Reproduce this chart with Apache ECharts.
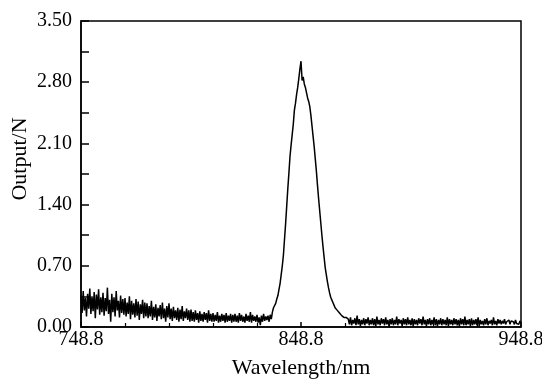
<!DOCTYPE html>
<html>
<head>
<meta charset="utf-8">
<script src="https://cdn.jsdelivr.net/npm/echarts@6/dist/echarts.min.js"></script>
<style>
  html, body { margin: 0; padding: 0; background: #fff; }
  #chart { width: 542px; height: 380px; }
</style>
</head>
<body>
<div id="chart"></div>
<script>
// wavelength axis (nm)
const xMin = 748.8;
const xMax = 948.8;
const xTickStep = 100;
const step = 0.5; // sample spacing, nm

// y axis
const yMax = 3.5;
const yTickStep = 0.7;

// noisy baseline, 748.8 .. 833.3 nm
const leftStart = 748.8;
const leftValues = [
  0.36,0.16,0.41,0.19,0.33,0.12,0.38,0.21,0.44,0.15,0.35,0.18,0.40,0.10,0.37,0.20,0.43,0.14,0.34,0.17,
  0.39,0.13,0.33,0.18,0.45,0.15,0.31,0.06,0.38,0.17,0.34,0.12,0.41,0.19,0.30,0.11,0.36,0.16,0.32,0.14,
  0.33,0.12,0.28,0.15,0.35,0.09,0.30,0.14,0.27,0.11,0.32,0.13,0.29,0.08,0.26,0.15,0.31,0.10,0.28,0.12,
  0.27,0.10,0.24,0.12,0.30,0.08,0.23,0.11,0.26,0.07,0.22,0.12,0.25,0.09,0.28,0.10,0.21,0.06,0.24,0.11,
  0.27,0.09,0.21,0.07,0.23,0.10,0.19,0.08,0.22,0.06,0.20,0.09,0.24,0.07,0.18,0.10,0.21,0.08,0.19,0.06,
  0.20,0.07,0.17,0.06,0.19,0.08,0.16,0.05,0.18,0.07,0.15,0.06,0.17,0.08,0.16,0.05,0.19,0.07,0.15,0.06,
  0.16,0.06,0.14,0.07,0.17,0.05,0.13,0.06,0.15,0.07,0.14,0.05,0.16,0.06,0.13,0.07,0.15,0.05,0.14,0.06,
  0.15,0.06,0.13,0.05,0.16,0.07,0.14,0.06,0.12,0.05,0.15,0.07,0.13,0.06,0.17,0.05,0.14,0.07,0.12,0.06,
  0.14,0.05,0.11,0.02,0.13,0.06,0.15,0.07,0.12,0.08
];

// emission peak, 833.8 .. 869.8 nm
const peakStart = 833.8;
const peakValues = [
  0.13,0.06,0.14,0.09,0.17,0.22,0.20,0.27,0.32,0.36,
  0.43,0.50,0.60,0.70,0.82,1.00,1.18,1.38,1.58,1.76,
  1.95,2.08,2.20,2.32,2.48,2.56,2.66,2.74,2.84,2.95,
  3.04,2.82,2.86,2.78,2.74,2.68,2.62,2.58,2.52,2.42,
  2.30,2.18,2.06,1.92,1.78,1.62,1.47,1.33,1.19,1.05,
  0.92,0.80,0.68,0.60,0.52,0.45,0.39,0.34,0.31,0.28,
  0.25,0.22,0.20,0.19,0.17,0.16,0.14,0.13,0.12,0.11,
  0.10,0.11,0.09
];

// flat tail, 870.3 .. 948.8 nm
const rightStart = 870.3;
const rightValues = [
  0.09,0.03,0.11,0.02,0.08,0.04,0.10,0.02,0.13,0.03,0.09,0.01,0.08,0.03,0.10,0.02,0.09,0.04,0.11,0.02,
  0.08,0.03,0.10,0.02,0.09,0.01,0.12,0.03,0.08,0.02,0.10,0.04,0.09,0.02,0.11,0.03,0.08,0.01,0.09,0.03,
  0.10,0.02,0.08,0.03,0.12,0.02,0.09,0.04,0.08,0.01,0.10,0.03,0.09,0.02,0.11,0.03,0.08,0.02,0.10,0.01,
  0.09,0.03,0.08,0.02,0.10,0.04,0.09,0.02,0.12,0.03,0.08,0.01,0.09,0.03,0.10,0.02,0.08,0.03,0.11,0.02,
  0.09,0.01,0.08,0.03,0.10,0.02,0.09,0.03,0.08,0.02,0.11,0.01,0.09,0.03,0.08,0.02,0.10,0.03,0.09,0.02,
  0.08,0.01,0.10,0.03,0.09,0.02,0.12,0.02,0.08,0.03,0.09,0.01,0.10,0.02,0.08,0.03,0.09,0.02,0.11,0.01,
  0.08,0.03,0.07,0.02,0.09,0.03,0.10,0.02,0.07,0.04,0.08,0.02,0.11,0.03,0.07,0.02,0.09,0.04,0.08,0.03,
  0.07,0.04,0.09,0.03,0.06,0.04,0.08,0.03,0.07,0.05,0.06,0.03,0.08,0.04,0.06,0.03,0.07,0.05
];

// x is plotted as offset from xMin so ticks start at 748.8
function toPoints(start, values) {
  return values.map((v, i) => [start + i * step - xMin, v]);
}
const points = [
  ...toPoints(leftStart, leftValues),
  ...toPoints(peakStart, peakValues),
  ...toPoints(rightStart, rightValues),
];

const font = "'Liberation Serif', 'DejaVu Serif', serif";
const chart = echarts.init(document.getElementById("chart"));

chart.setOption({
  animation: false,
  grid: {
    left: 81, right: 21, top: 21, bottom: 53,
    outerBoundsMode: "none",
    show: true, borderColor: "#000", borderWidth: 1.5, backgroundColor: "transparent",
  },
  xAxis: {
    type: "value",
    min: 0,
    max: xMax - xMin,
    interval: xTickStep,
    name: "Wavelength/nm",
    nameLocation: "middle",
    nameGap: 30,
    nameMoveOverlap: false,
    nameTextStyle: { fontFamily: font, fontSize: 22, color: "#000" },
    axisLine: { lineStyle: { color: "#000", width: 1.5 } },
    axisTick: { inside: true, length: 5, lineStyle: { color: "#000", width: 1.5 } },
    minorTick: { show: true, splitNumber: 5, length: 4, lineStyle: { color: "#000", width: 1.2 } },
    axisLabel: {
      margin: 3,
      fontFamily: font, fontSize: 20, color: "#000",
      formatter: (v) => (v + xMin).toFixed(1),
    },
    splitLine: { show: false },
  },
  yAxis: {
    type: "value",
    min: 0,
    max: yMax,
    interval: yTickStep,
    name: "Output/N",
    nameLocation: "middle",
    nameGap: 50,
    nameMoveOverlap: false,
    nameTextStyle: { fontFamily: font, fontSize: 22, color: "#000", padding: [0, 0, 0, 30] },
    axisLine: { show: true, lineStyle: { color: "#000", width: 1.5 } },
    axisTick: { show: true, inside: true, length: 8, lineStyle: { color: "#000", width: 1.5 } },
    minorTick: { show: true, splitNumber: 2, length: 8, lineStyle: { color: "#000", width: 1.5 } },
    axisLabel: {
      margin: 9,
      fontFamily: font, fontSize: 20, color: "#000",
      formatter: (v) => v.toFixed(2),
    },
    splitLine: { show: false },
  },
  series: [
    {
      type: "line",
      data: points,
      showSymbol: false,
      symbol: "none",
      lineStyle: { color: "#000", width: 1.5 },
    },
  ],
});
</script>
</body>
</html>
